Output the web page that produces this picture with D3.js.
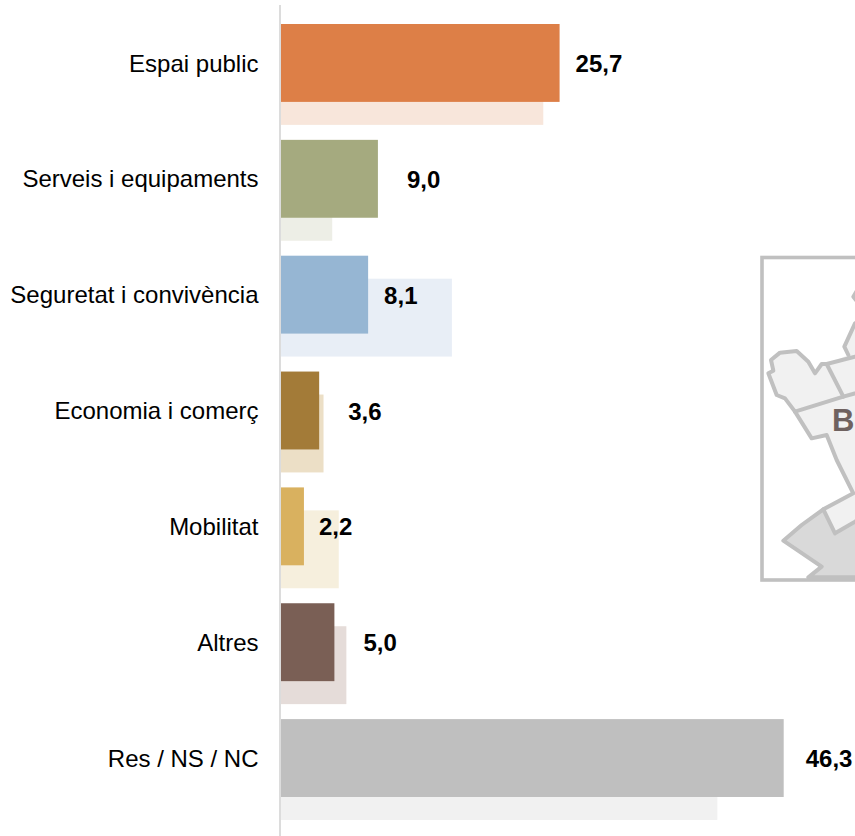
<!DOCTYPE html>
<html><head><meta charset="utf-8">
<script src="https://cdn.jsdelivr.net/npm/d3@7"></script>
<style>html,body{margin:0;padding:0;background:#fff}svg{display:block}text{font-family:"Liberation Sans",Arial,sans-serif}</style>
</head><body><div id="c"></div>
<script>
const categories=["Espai public","Serveis i equipaments","Seguretat i convivència","Economia i comerç","Mobilitat","Altres","Res / NS / NC"];
const current=[25.7,9.0,8.1,3.6,2.2,5.0,46.3];
const previous=[24.2,4.8,15.8,4.0,5.4,6.1,40.2];
const valueLabels=["25,7","9,0","8,1","3,6","2,2","5,0","46,3"];
const colors=["#dd7f47","#a5aa7f","#96b6d3","#a37b38","#d9b15f","#7a5f55","#bfbfbf"];
const lightColors=["#f8e6db","#edeee6","#e8eef6","#ecdfc6","#f6efdd","#e5dcd9","#f1f1f1"];
const labelGaps=[16,29,16,29,15,29,22];

// inset map outlines, traced in zoomed-crop units
const mapFill=[
 {f:"#f1f1f1",p:[[165,515],[135,475],[110,465],[85,400],[100,392],[93,360],[120,338],[170,333],[205,365],[225,400],[245,372],[260,372],[325,345],[400,345],[400,460],[345,460]]},
 {f:"#f1f1f1",p:[[165,515],[345,460],[400,450],[400,830],[345,845],[285,880],[250,808],[340,760],[290,660],[260,585],[215,595]]},
 {f:"#d9d9d9",p:[[250,808],[185,855],[130,902],[245,980],[205,1012],[400,1012],[400,830],[345,845],[285,880]]},
 {f:"#f1f1f1",p:[[345,250],[313,320],[325,345],[400,345],[400,250]]},
 {f:"#f1f1f1",p:[[352,150],[340,170],[352,185],[400,185],[400,150]]}
];
const mapLines=[
 [[165,515],[135,475],[110,465],[85,400],[100,392],[93,360],[120,338],[170,333],[205,365],[225,400],[245,372],[260,372],[310,470]],
 [[260,372],[345,350],[400,340]],
 [[165,515],[310,470],[400,445]],
 [[165,515],[215,595],[260,585],[290,660],[340,760],[250,808],[185,855],[130,902],[245,980],[205,1012],[400,1012]],
 [[250,808],[285,880],[345,845],[400,810]],
 [[400,215],[345,250],[313,320],[325,345]],
 [[352,150],[340,170],[352,185]]
];

const W=855,H=836;
const svg=d3.select("#c").append("svg").attr("width",W).attr("height",H);
const x=d3.scaleLinear().domain([0,46.3]).range([280,783.7]);
const y=d3.scaleBand().domain(categories).range([24,797]).paddingInner(38/116);
const prevShift=y.bandwidth()*0.295;

const mx=d3.scaleLinear().domain([0,3]).range([740,741]);
const my=d3.scaleLinear().domain([0,3]).range([240,241]);
const line=d3.line().x(d=>mx(d[0])).y(d=>my(d[1]));
const map=svg.append("g");
map.selectAll("path.f").data(mapFill).join("path").attr("class","f").attr("d",d=>line(d.p)+"Z").attr("fill",d=>d.f);
map.selectAll("path.l").data(mapLines).join("path").attr("class","l").attr("d",line).attr("fill","none").attr("stroke","#c0c0c0").attr("stroke-width",4).attr("stroke-linejoin","round").attr("stroke-linecap","round");
map.append("rect").attr("x",762).attr("y",257.5).attr("width",140).attr("height",322.5).attr("fill","none").attr("stroke","#c0c0c0").attr("stroke-width",3.6);
map.append("text").attr("x",832).attr("y",431).attr("font-size",31).attr("font-weight","bold").attr("fill","#6f6260").text("B");

svg.selectAll("rect.prev").data(categories).join("rect").attr("class","prev")
 .attr("x",x(0)).attr("y",c=>y(c)+prevShift).attr("height",y.bandwidth())
 .attr("width",(c,i)=>x(previous[i])-x(0)).attr("fill",(c,i)=>lightColors[i]);
svg.selectAll("rect.cur").data(categories).join("rect").attr("class","cur")
 .attr("x",x(0)).attr("y",c=>y(c)).attr("height",y.bandwidth())
 .attr("width",(c,i)=>x(current[i])-x(0)).attr("fill",(c,i)=>colors[i]);

// baseline
svg.append("line").attr("x1",280).attr("x2",280).attr("y1",5).attr("y2",836).attr("stroke","#dcdcdc").attr("stroke-width",2);

svg.selectAll("text.cat").data(categories).join("text").attr("class","cat")
 .attr("x",258.5).attr("y",c=>y(c)+y.bandwidth()/2).attr("dy","0.36em").attr("text-anchor","end")
 .attr("font-size",24).attr("fill","#000").text(c=>c);
svg.selectAll("text.val").data(valueLabels).join("text").attr("class","val")
 .attr("x",(v,i)=>x(current[i])+labelGaps[i]).attr("y",(v,i)=>y(categories[i])+y.bandwidth()/2).attr("dy","0.38em")
 .attr("font-size",24).attr("font-weight","bold").attr("fill","#000").text(v=>v);
</script></body></html>
